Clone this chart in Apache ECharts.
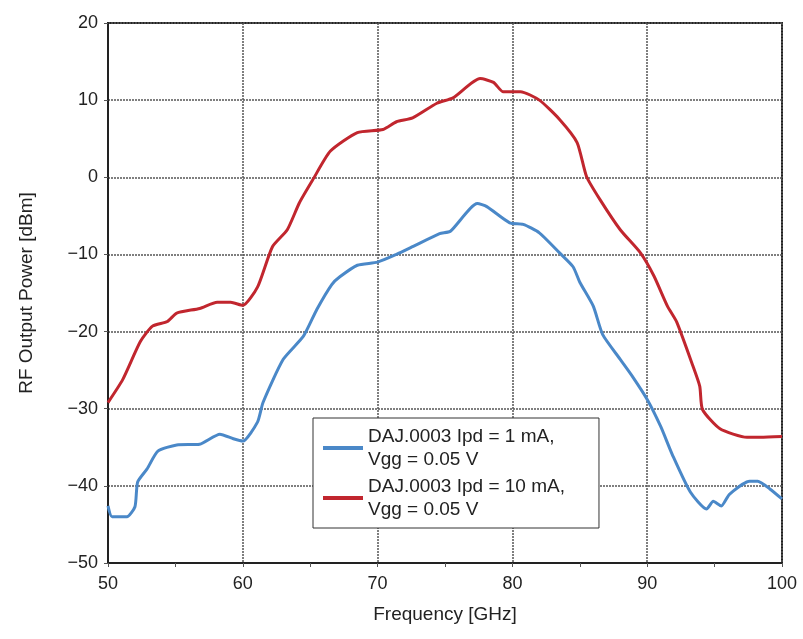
<!DOCTYPE html>
<html>
<head>
<meta charset="utf-8">
<script src="https://cdn.jsdelivr.net/npm/echarts@6/dist/echarts.min.js"></script>
<style>
  html, body { margin: 0; padding: 0; background: #fff; }
  #chart { width: 803px; height: 639px; }
</style>
</head>
<body>
<div id="chart"></div>
<script>
// Ipd = 1 mA curve (GHz, dBm)
var blueFreq = [50, 50.3, 51.4, 52.0, 52.2, 52.9, 53.7, 55.1, 56.8, 58.3, 59.3, 60, 61.1, 61.5, 63.0, 64.5, 65.5, 66.6, 67.2, 68.5, 70, 71.4, 72.6, 74.6, 75.4, 77.4, 78.1, 79.8, 80.8, 82.0, 83.5, 84.5, 85.0, 86.0, 86.7, 88.0, 88.9, 90, 91.0, 91.9, 93.2, 94.4, 94.9, 95.5, 96.1, 97.6, 98.2, 99.1, 100]
var blueDbm  = [-42.6, -44, -44, -42.7, -39.5, -37.8, -35.5, -34.7, -34.6, -33.3, -33.9, -34.2, -31.7, -29.2, -23.6, -20.6, -17.1, -13.9, -12.9, -11.4, -11, -10, -9, -7.3, -7, -3.4, -3.8, -5.9, -6.1, -7.2, -9.8, -11.6, -13.6, -16.7, -20.4, -23.6, -25.8, -28.8, -32.3, -36.1, -40.8, -43, -42, -42.6, -41.1, -39.4, -39.4, -40.4, -41.7]

// Ipd = 10 mA curve
var redFreq = [50, 51.1, 52.4, 53.3, 54.4, 55.1, 56.8, 58.1, 59.1, 60, 61.1, 62.2, 63.3, 64.2, 65.2, 66.5, 68.5, 70.4, 71.4, 72.6, 74.4, 75.6, 77.6, 78.6, 79.3, 80.6, 82.0, 83.5, 84.8, 85.5, 86.5, 88.0, 89.5, 90.5, 91.5, 92.2, 93.4, 93.9, 94.1, 95.4, 97.4, 98.4, 100]
var redDbm  = [-29.2, -26.2, -21.3, -19.3, -18.7, -17.6, -17, -16.2, -16.2, -16.6, -14.2, -9, -6.8, -3.3, -0.3, 3.4, 5.8, 6.2, 7.2, 7.7, 9.6, 10.3, 12.8, 12.3, 11.1, 11.1, 10, 7.5, 4.5, 0.1, -2.9, -6.8, -9.8, -12.8, -16.7, -18.8, -24.5, -27.1, -30.1, -32.6, -33.7, -33.7, -33.6]

var seriesNames = ['DAJ.0003 Ipd = 1 mA,\nVgg = 0.05 V', 'DAJ.0003 Ipd = 10 mA,\nVgg = 0.05 V']
var seriesColors = ['#4a88c8', '#c1262e']

function pairs(xs, ys) {
  return xs.map(function (x, i) { return [x, ys[i]] })
}

var chart = echarts.init(document.getElementById('chart'))
var font = 'Liberation Sans, Arial, sans-serif'

chart.setOption({
  animation: false,
  textStyle: { fontFamily: font },
  grid: {
    left: 108, right: 21, top: 23, bottom: 76,
    show: true, borderColor: '#222', borderWidth: 2
  },
  legend: {
    left: 313, top: 418,
    orient: 'vertical',
    backgroundColor: '#fff',
    borderColor: '#333', borderWidth: 1, borderRadius: 0,
    padding: [7, 34, 7, 10],
    itemGap: 4,
    itemWidth: 40, itemHeight: 4,
    textStyle: { fontSize: 19, color: '#222', lineHeight: 23, fontFamily: font },
    data: seriesNames.map(function (n) { return { name: n, icon: 'rect' } })
  },
  xAxis: {
    type: 'value', min: 50, max: 100, interval: 10,
    name: 'Frequency [GHz]', nameLocation: 'middle', nameGap: 42,
    nameTextStyle: { fontSize: 19, color: '#222' },
    axisLine: { onZero: false, lineStyle: { color: '#222', width: 2 } },
    axisTick: { show: true, inside: false, length: 4, lineStyle: { color: '#555' } },
    minorTick: { show: true, splitNumber: 2, length: 4, lineStyle: { color: '#555' } },
    axisLabel: { fontSize: 18, color: '#222', margin: 12 },
    splitLine: { show: true, lineStyle: { color: '#555', type: [2, 1], width: 1.5 } }
  },
  yAxis: {
    type: 'value', min: -50, max: 20, interval: 10,
    name: 'RF Output Power [dBm]', nameLocation: 'middle', nameGap: 72,
    nameTextStyle: { fontSize: 19, color: '#222' },
    axisLine: { show: true, onZero: false, lineStyle: { color: '#222', width: 2 } },
    axisTick: { show: true, inside: false, length: 4, lineStyle: { color: '#555' } },
    axisLabel: {
      fontSize: 18, color: '#222', margin: 10,
      formatter: function (v) { return v < 0 ? '\u2212' + Math.abs(v) : String(v) }
    },
    splitLine: { show: true, lineStyle: { color: '#555', type: [2, 1], width: 1.5 } }
  },
  series: [
    {
      name: seriesNames[0], type: 'line', data: pairs(blueFreq, blueDbm),
      showSymbol: false, smooth: 0.2,
      lineStyle: { color: seriesColors[0], width: 3 }, itemStyle: { color: seriesColors[0] }
    },
    {
      name: seriesNames[1], type: 'line', data: pairs(redFreq, redDbm),
      showSymbol: false, smooth: 0.2,
      lineStyle: { color: seriesColors[1], width: 3 }, itemStyle: { color: seriesColors[1] }
    }
  ]
})
</script>
</body>
</html>
